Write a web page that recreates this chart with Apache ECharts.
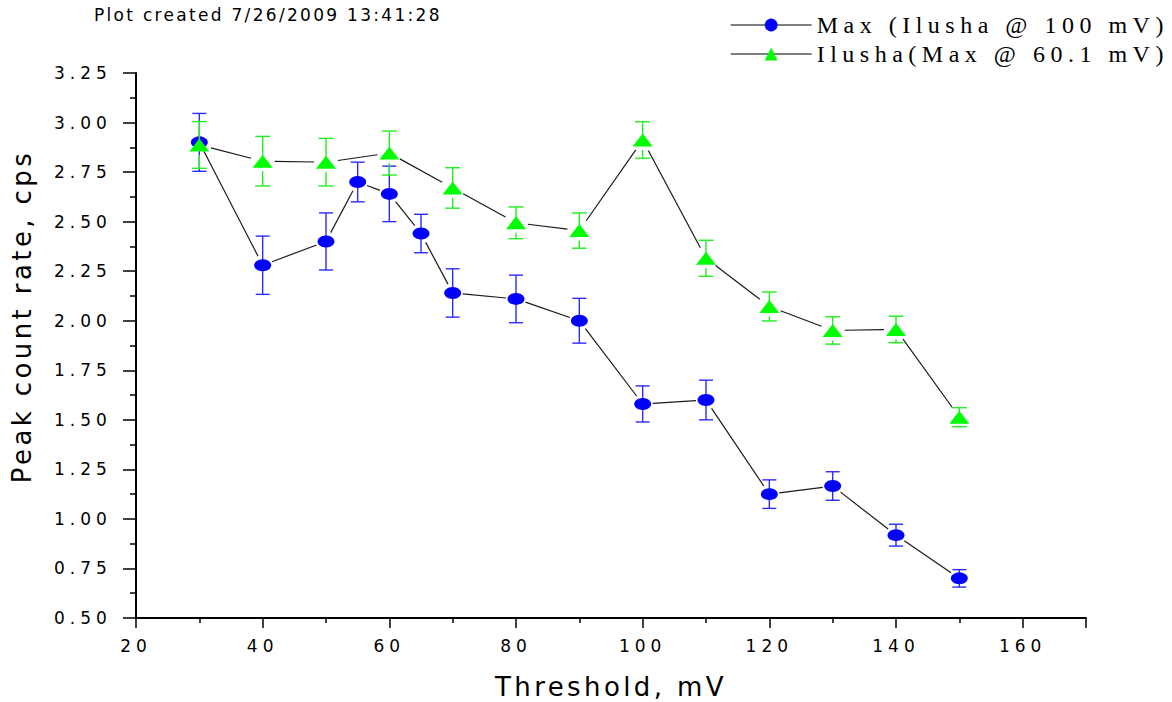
<!DOCTYPE html>
<html>
<head>
<meta charset="utf-8">
<script src="https://cdn.jsdelivr.net/npm/echarts@6/dist/echarts.min.js"></script>
<style>
  html, body { margin: 0; padding: 0; background: #fff; }
  #chart { width: 1172px; height: 702px; }
</style>
</head>
<body>
<div id="chart"></div>
<script>
// Peak count rate versus discriminator threshold, two runs with error bars.
const thresholdsMax = [30, 40, 50, 55, 60, 65, 70, 80, 90, 100, 110, 120, 130, 140, 150];
const rateMax       = [2.90, 2.28, 2.40, 2.70, 2.64, 2.44, 2.14, 2.11, 2.00, 1.58, 1.60, 1.125, 1.166, 0.918, 0.70];
const errMax        = [0.146, 0.147, 0.144, 0.10, 0.14, 0.097, 0.122, 0.12, 0.113, 0.091, 0.10, 0.072, 0.072, 0.055, 0.044];

const thresholdsIlusha = [30, 40, 50, 60, 70, 80, 90, 100, 110, 120, 130, 140, 150];
const rateIlusha       = [2.887, 2.805, 2.80, 2.846, 2.67, 2.494, 2.455, 2.912, 2.315, 2.072, 1.951, 1.956, 1.513];
const errIlusha        = [0.118, 0.125, 0.12, 0.111, 0.102, 0.08, 0.089, 0.092, 0.091, 0.073, 0.069, 0.067, 0.048];

const seriesNames = ['Max (Ilusha @ 100 mV)', 'Ilusha(Max @ 60.1 mV)'];
const plotStamp = 'Plot created 7/26/2009 13:41:28';
const xRange = [20, 170], xStep = 20;
const yRange = [0.5, 3.25], yStep = 0.25;

const SANS = 'DejaVu Sans';
const SERIF = 'Liberation Serif';

function points(xs, ys) { return xs.map((x, i) => [x, ys[i]]); }
function withErrors(xs, ys, es) { return xs.map((x, i) => [x, ys[i], es[i]]); }
function segments(xs, ys) {
  const out = [];
  for (let i = 0; i < xs.length - 1; i++) out.push([xs[i], ys[i], xs[i + 1], ys[i + 1]]);
  return out;
}

// Straight connectors that stop short of each marker.
function connectorRenderer(gap) {
  return function (params, api) {
    const a = api.coord([api.value(0), api.value(1)]);
    const b = api.coord([api.value(2), api.value(3)]);
    const dx = b[0] - a[0], dy = b[1] - a[1];
    const len = Math.hypot(dx, dy);
    if (len <= 2 * gap) return null;
    const ux = dx / len, uy = dy / len;
    return {
      type: 'line',
      shape: { x1: a[0] + ux * gap, y1: a[1] + uy * gap, x2: b[0] - ux * gap, y2: b[1] - uy * gap },
      style: { stroke: '#1a1a1a', lineWidth: 1.2 }
    };
  };
}

// Symmetric vertical error bars with caps.
function errorBarRenderer(color, capHalf, lowGap) {
  return function (params, api) {
    const x = api.value(0), y = api.value(1), e = api.value(2);
    const hi = api.coord([x, y + e]);
    const lo = api.coord([x, y - e]);
    const mid = api.coord([x, y]);
    const style = { stroke: color, lineWidth: 1.4 };
    const children = [
      { type: 'line', shape: { x1: hi[0] - capHalf, y1: hi[1], x2: hi[0] + capHalf, y2: hi[1] }, style },
      { type: 'line', shape: { x1: lo[0] - capHalf, y1: lo[1], x2: lo[0] + capHalf, y2: lo[1] }, style },
      { type: 'line', shape: { x1: hi[0], y1: hi[1], x2: mid[0], y2: mid[1] }, style }
    ];
    const lowStart = mid[1] + lowGap;
    if (lo[1] > lowStart) {
      children.push({ type: 'line', shape: { x1: lo[0], y1: lowStart, x2: lo[0], y2: lo[1] }, style });
    }
    return { type: 'group', children };
  };
}

const dom = document.getElementById('chart');
const chart = echarts.init(dom, null, { renderer: 'svg' });

chart.setOption({
  animation: false,
  backgroundColor: '#ffffff',
  title: {
    text: plotStamp,
    left: 89,
    top: 1,
    textStyle: { fontFamily: SANS, fontSize: 17, fontWeight: 'normal', color: '#000' }
  },
  legend: {
    orient: 'vertical',
    left: 725,
    top: 8,
    itemWidth: 81,
    itemHeight: 16,
    itemGap: 5,
    selectedMode: false,
    data: seriesNames,
    lineStyle: { color: '#555', width: 1.3, opacity: 1 },
    textStyle: { fontFamily: SERIF, fontSize: 24, color: '#000' }
  },
  grid: { left: 136, right: 86, top: 73, bottom: 84, containLabel: false, outerBoundsMode: 'none' },
  xAxis: {
    type: 'value',
    min: xRange[0], max: xRange[1], interval: xStep,
    name: 'Threshold, mV',
    nameLocation: 'middle',
    nameGap: 56,
    nameTextStyle: { fontFamily: SANS, fontSize: 26, color: '#000' },
    axisLine: { lineStyle: { color: '#000', width: 2 } },
    axisTick: { length: 10, lineStyle: { color: '#000', width: 1.5 } },
    minorTick: { show: true, splitNumber: 2, length: 5, lineStyle: { color: '#000', width: 1.5 } },
    axisLabel: { margin: 19, fontFamily: SANS, fontSize: 17, color: '#000', showMaxLabel: false },
    splitLine: { show: false }
  },
  yAxis: {
    type: 'value',
    min: yRange[0], max: yRange[1], interval: yStep,
    name: 'Peak count rate, cps',
    nameLocation: 'middle',
    nameRotate: 90,
    nameGap: 101,
    nameTextStyle: { fontFamily: SANS, fontSize: 26, color: '#000', padding: [0, 0, 0, 58] },
    axisLine: { lineStyle: { color: '#000', width: 2 } },
    axisTick: { length: 13, lineStyle: { color: '#000', width: 1.5 } },
    minorTick: { show: true, splitNumber: 2, length: 6, lineStyle: { color: '#000', width: 1.5 } },
    // labels share one left edge; all of them are four characters long
    axisLabel: { margin: 82, align: 'left', fontFamily: SANS, fontSize: 17, color: '#000', formatter: v => v.toFixed(2) },
    splitLine: { show: false }
  },
  series: [
    {
      type: 'custom', name: 'maxConnectors', silent: true, z: 1,
      renderItem: connectorRenderer(10),
      encode: { x: [0, 2], y: [1, 3] },
      data: segments(thresholdsMax, rateMax)
    },
    {
      type: 'custom', name: 'ilushaConnectors', silent: true, z: 1,
      renderItem: connectorRenderer(12),
      encode: { x: [0, 2], y: [1, 3] },
      data: segments(thresholdsIlusha, rateIlusha)
    },
    {
      type: 'custom', name: 'maxErrors', silent: true, z: 2,
      renderItem: errorBarRenderer('#2b2bff', 7, 0),
      encode: { x: 0, y: 1 },
      data: withErrors(thresholdsMax, rateMax, errMax)
    },
    {
      name: seriesNames[0], type: 'line', z: 3,
      data: points(thresholdsMax, rateMax),
      symbol: 'circle', symbolSize: [17, 12],
      itemStyle: { color: '#0000ff' },
      lineStyle: { opacity: 0 }
    },
    {
      type: 'custom', name: 'ilushaErrors', silent: true, z: 4,
      renderItem: errorBarRenderer('#22ee22', 7.5, 10),
      encode: { x: 0, y: 1 },
      data: withErrors(thresholdsIlusha, rateIlusha, errIlusha)
    },
    {
      name: seriesNames[1], type: 'line', z: 5,
      data: points(thresholdsIlusha, rateIlusha),
      symbol: 'triangle', symbolSize: [20, 13],
      itemStyle: { color: '#00ff00' },
      lineStyle: { opacity: 0 }
    }
  ]
});

// Wide tracking on the text, as in the original plot output.
const tracking = [
  [/^[0-9.]+$/, '5px'],
  [/^Plot created/, '2.3px'],
  [/mV\)$/, '5.5px'],
  [/.*/, '3.4px']
];
function applyTracking() {
  dom.querySelectorAll('text').forEach(t => {
    const s = (t.textContent || '').trim();
    for (const [re, ls] of tracking) {
      if (re.test(s)) { t.style.letterSpacing = ls; break; }
    }
  });
}
chart.on('finished', applyTracking);
applyTracking();
</script>
</body>
</html>
